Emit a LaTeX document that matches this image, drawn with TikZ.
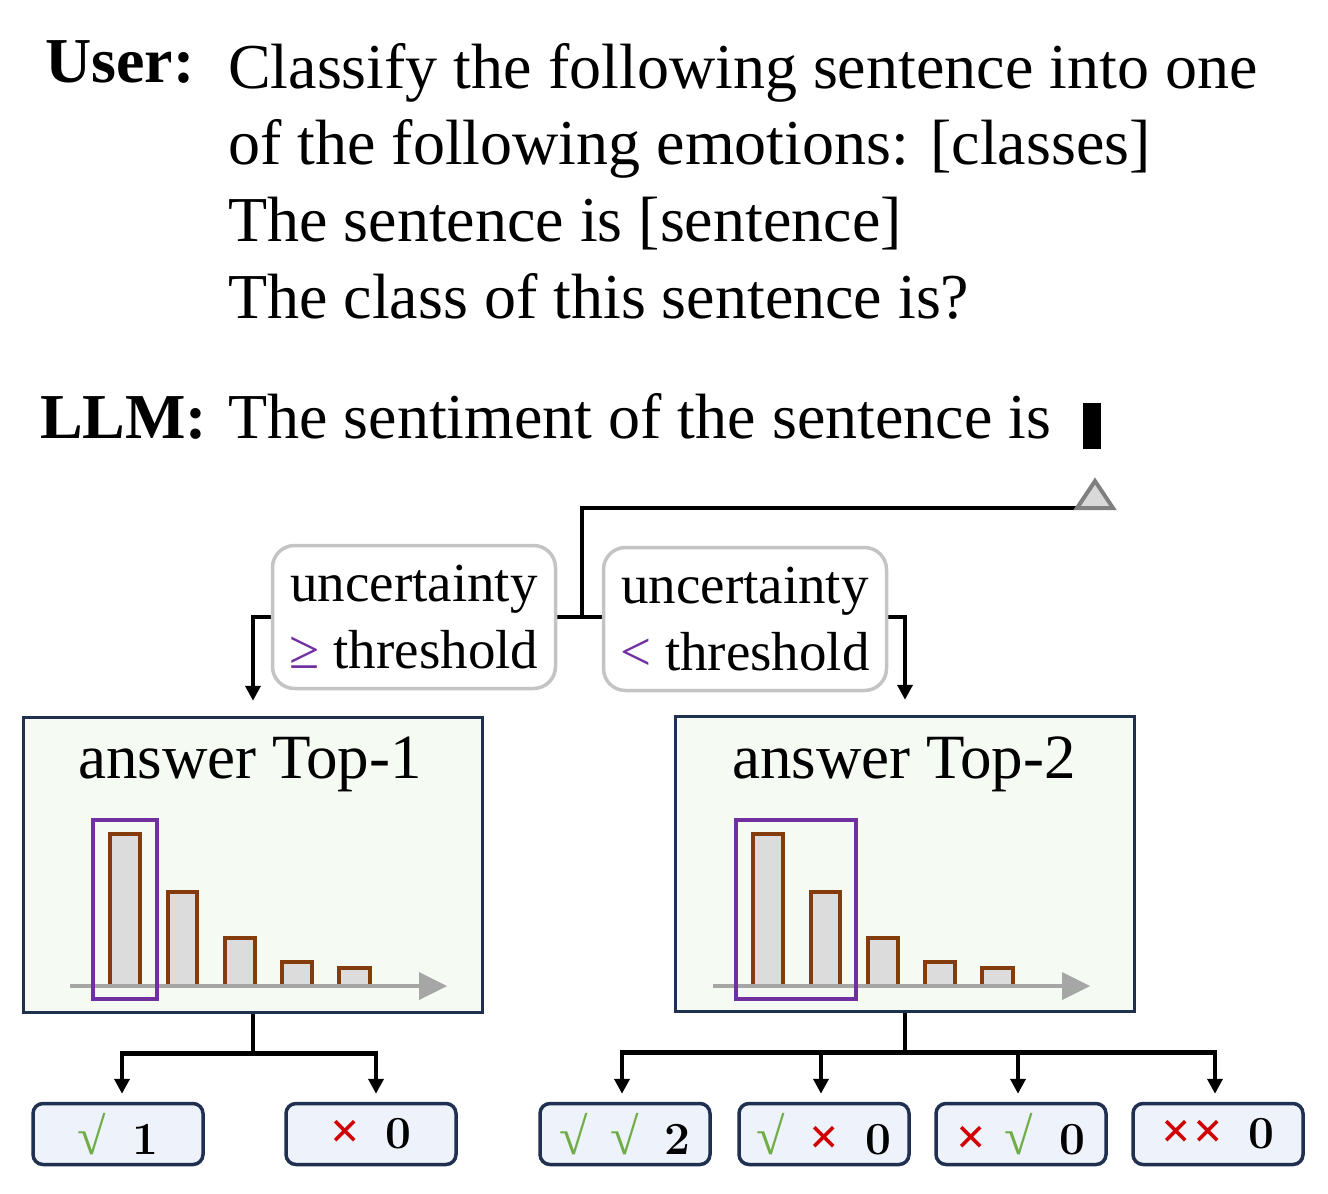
\documentclass[tikz,border=0pt]{standalone}
\usepackage{fontspec}
\newfontfamily\tnr{Liberation Serif}
\usetikzlibrary{arrows.meta,calc}
\definecolor{navy}{HTML}{1F3050}
\definecolor{ansfill}{HTML}{F5FAF3}
\definecolor{smallfill}{HTML}{EEF2FA}
\definecolor{purp}{HTML}{7030A0}
\definecolor{brownbar}{HTML}{843C0C}
\definecolor{barfill}{HTML}{DCDCDC}
\definecolor{axisgray}{HTML}{A6A6A6}
\definecolor{ckgreen}{HTML}{70AD47}
\definecolor{xred}{HTML}{D00000}
\definecolor{uncgray}{HTML}{C4C4C4}
\definecolor{trifill}{HTML}{D9D9D9}
\definecolor{trigray}{HTML}{7F7F7F}
\newcommand\ck{{\tnr\bfseries\fontsize{52}{50}\selectfont\color{ckgreen}√}}
\newcommand\xx{{\tnr\bfseries\fontsize{52}{50}\selectfont\color{xred}×}}
\newcommand\barchart[2]{%
  \begin{scope}[xshift=#1]
    \draw[barst] (110,986) rectangle (140,834);
    \draw[barst] (168,986) rectangle (197,892);
    \draw[barst] (225,986) rectangle (255,938);
    \draw[barst] (282,986) rectangle (312,962);
    \draw[barst] (339,986) rectangle (370,968);
    \draw[axisgray, line width=4] (70,986) -- (421,986);
    \fill[axisgray] (419,972) -- (447,986) -- (419,1000) -- cycle;
    \draw[purp, line width=3.5] (93,820) rectangle (#2,999);
  \end{scope}}
\begin{document}
\begin{tikzpicture}[x=1pt,y=-1pt,
  txt/.style={font=\tnr\fontsize{64}{76}\selectfont, inner sep=0, anchor=base west},
  ansbox/.style={draw=navy, fill=ansfill, line width=3.5, minimum width=459, minimum height=295, inner sep=0},
  title/.style={font=\tnr\fontsize{63}{70}\selectfont, inner sep=0, anchor=base},
  uncbox/.style={draw=uncgray, fill=white, line width=3.5, rounded corners=22, minimum width=283, minimum height=143, inner sep=0, align=center, font=\tnr\fontsize{55}{67}\selectfont},
  resbox/.style={draw=navy, fill=smallfill, line width=3.5, rounded corners=10, minimum width=170, minimum height=61, inner sep=0, font=\fontsize{46}{50}\selectfont\bfseries},
  conn/.style={black, line width=4.5},
  arr/.style={-{Triangle[length=15,width=15]}},
  barst/.style={draw=brownbar, fill=barfill, line width=4}
]
\useasboundingbox (0,0) rectangle (1328,1194);
% header text
\node[txt] (user) at (45,82) {\bfseries User:};
\node[txt] (l1) at (228,88) {Classify the following sentence into one};
\node[txt] (l2) at (228,164) {of the following emotions: [classes]};
\node[txt] (l3) at (228,241) {The sentence is [sentence]};
\node[txt] (l4) at (228,318) {The class of this sentence is?};
\node[txt] (llm) at (40,438) {\bfseries LLM:};
\node[txt] (l5) at (228,438) {The sentiment of the sentence is};
\node[fill=black, inner sep=0, minimum width=18, minimum height=46, anchor=north west] (cur) at (1083,403) {};
% answer boxes
\node[ansbox] (ansL) at (253,865) {};
\node[ansbox] (ansR) at (905,864) {};
\node[title] (tL) at (250,778) {answer Top-1};
\node[title] (tR) at (904,778) {answer Top-2};
\barchart{0}{157}
\barchart{643}{213}
% triangle and connectors
\coordinate (tri) at (1077,508);
\coordinate (split) at (582,617);
\draw[conn] (tri) -- (582,508) -- (split);
\draw[conn, arr, shorten >=15] (split) -| (ansL.north);
\draw[conn, arr, shorten >=15] (split) -| (ansR.north);
\draw[fill=trifill, draw=trigray, line width=4, line join=miter] (tri) -- (1095,481) -- (1113,508) -- cycle;
% uncertainty boxes
\node[uncbox] (uncL) at (414,617) {uncertainty\\{\color{purp}≥} threshold};
\node[uncbox] (uncR) at (745,619) {uncertainty\\{\color{purp}<} threshold};
% result boxes
\node[resbox] (r1) at (118,1134) {\ck\hspace{26pt}1};
\node[resbox] (r2) at (371,1134) {\xx\hspace{26pt}0};
\node[resbox] (s1) at (625,1134) {\ck\hspace{22pt}\ck\hspace{26pt}2};
\node[resbox] (s2) at (824,1134) {\ck\hspace{24pt}\xx\hspace{26pt}0};
\node[resbox] (s3) at (1021,1134) {\xx\hspace{18pt}\ck\hspace{26pt}0};
\node[resbox] (s4) at (1218,1134) {\xx\hspace{2pt}\xx\hspace{26pt}0};
% lower connectors
\draw[conn] (ansL.south) -- ++(0,39) coordinate (jL);
\draw[conn, arr, shorten >=8] (jL) -| ($(r1.north)+(4,0)$);
\draw[conn, arr, shorten >=8] (jL) -| ($(r2.north)+(5,0)$);
\draw[conn] (ansR.south) -- ++(0,39) coordinate (jR);
\draw[conn, arr, shorten >=8] (jR) -| ($(s1.north)+(-3,0)$);
\draw[conn, arr, shorten >=8] (jR) -| ($(s2.north)+(-3,0)$);
\draw[conn, arr, shorten >=8] (jR) -| ($(s3.north)+(-3,0)$);
\draw[conn, arr, shorten >=8] (jR) -| ($(s4.north)+(-3,0)$);
\end{tikzpicture}
\end{document}
